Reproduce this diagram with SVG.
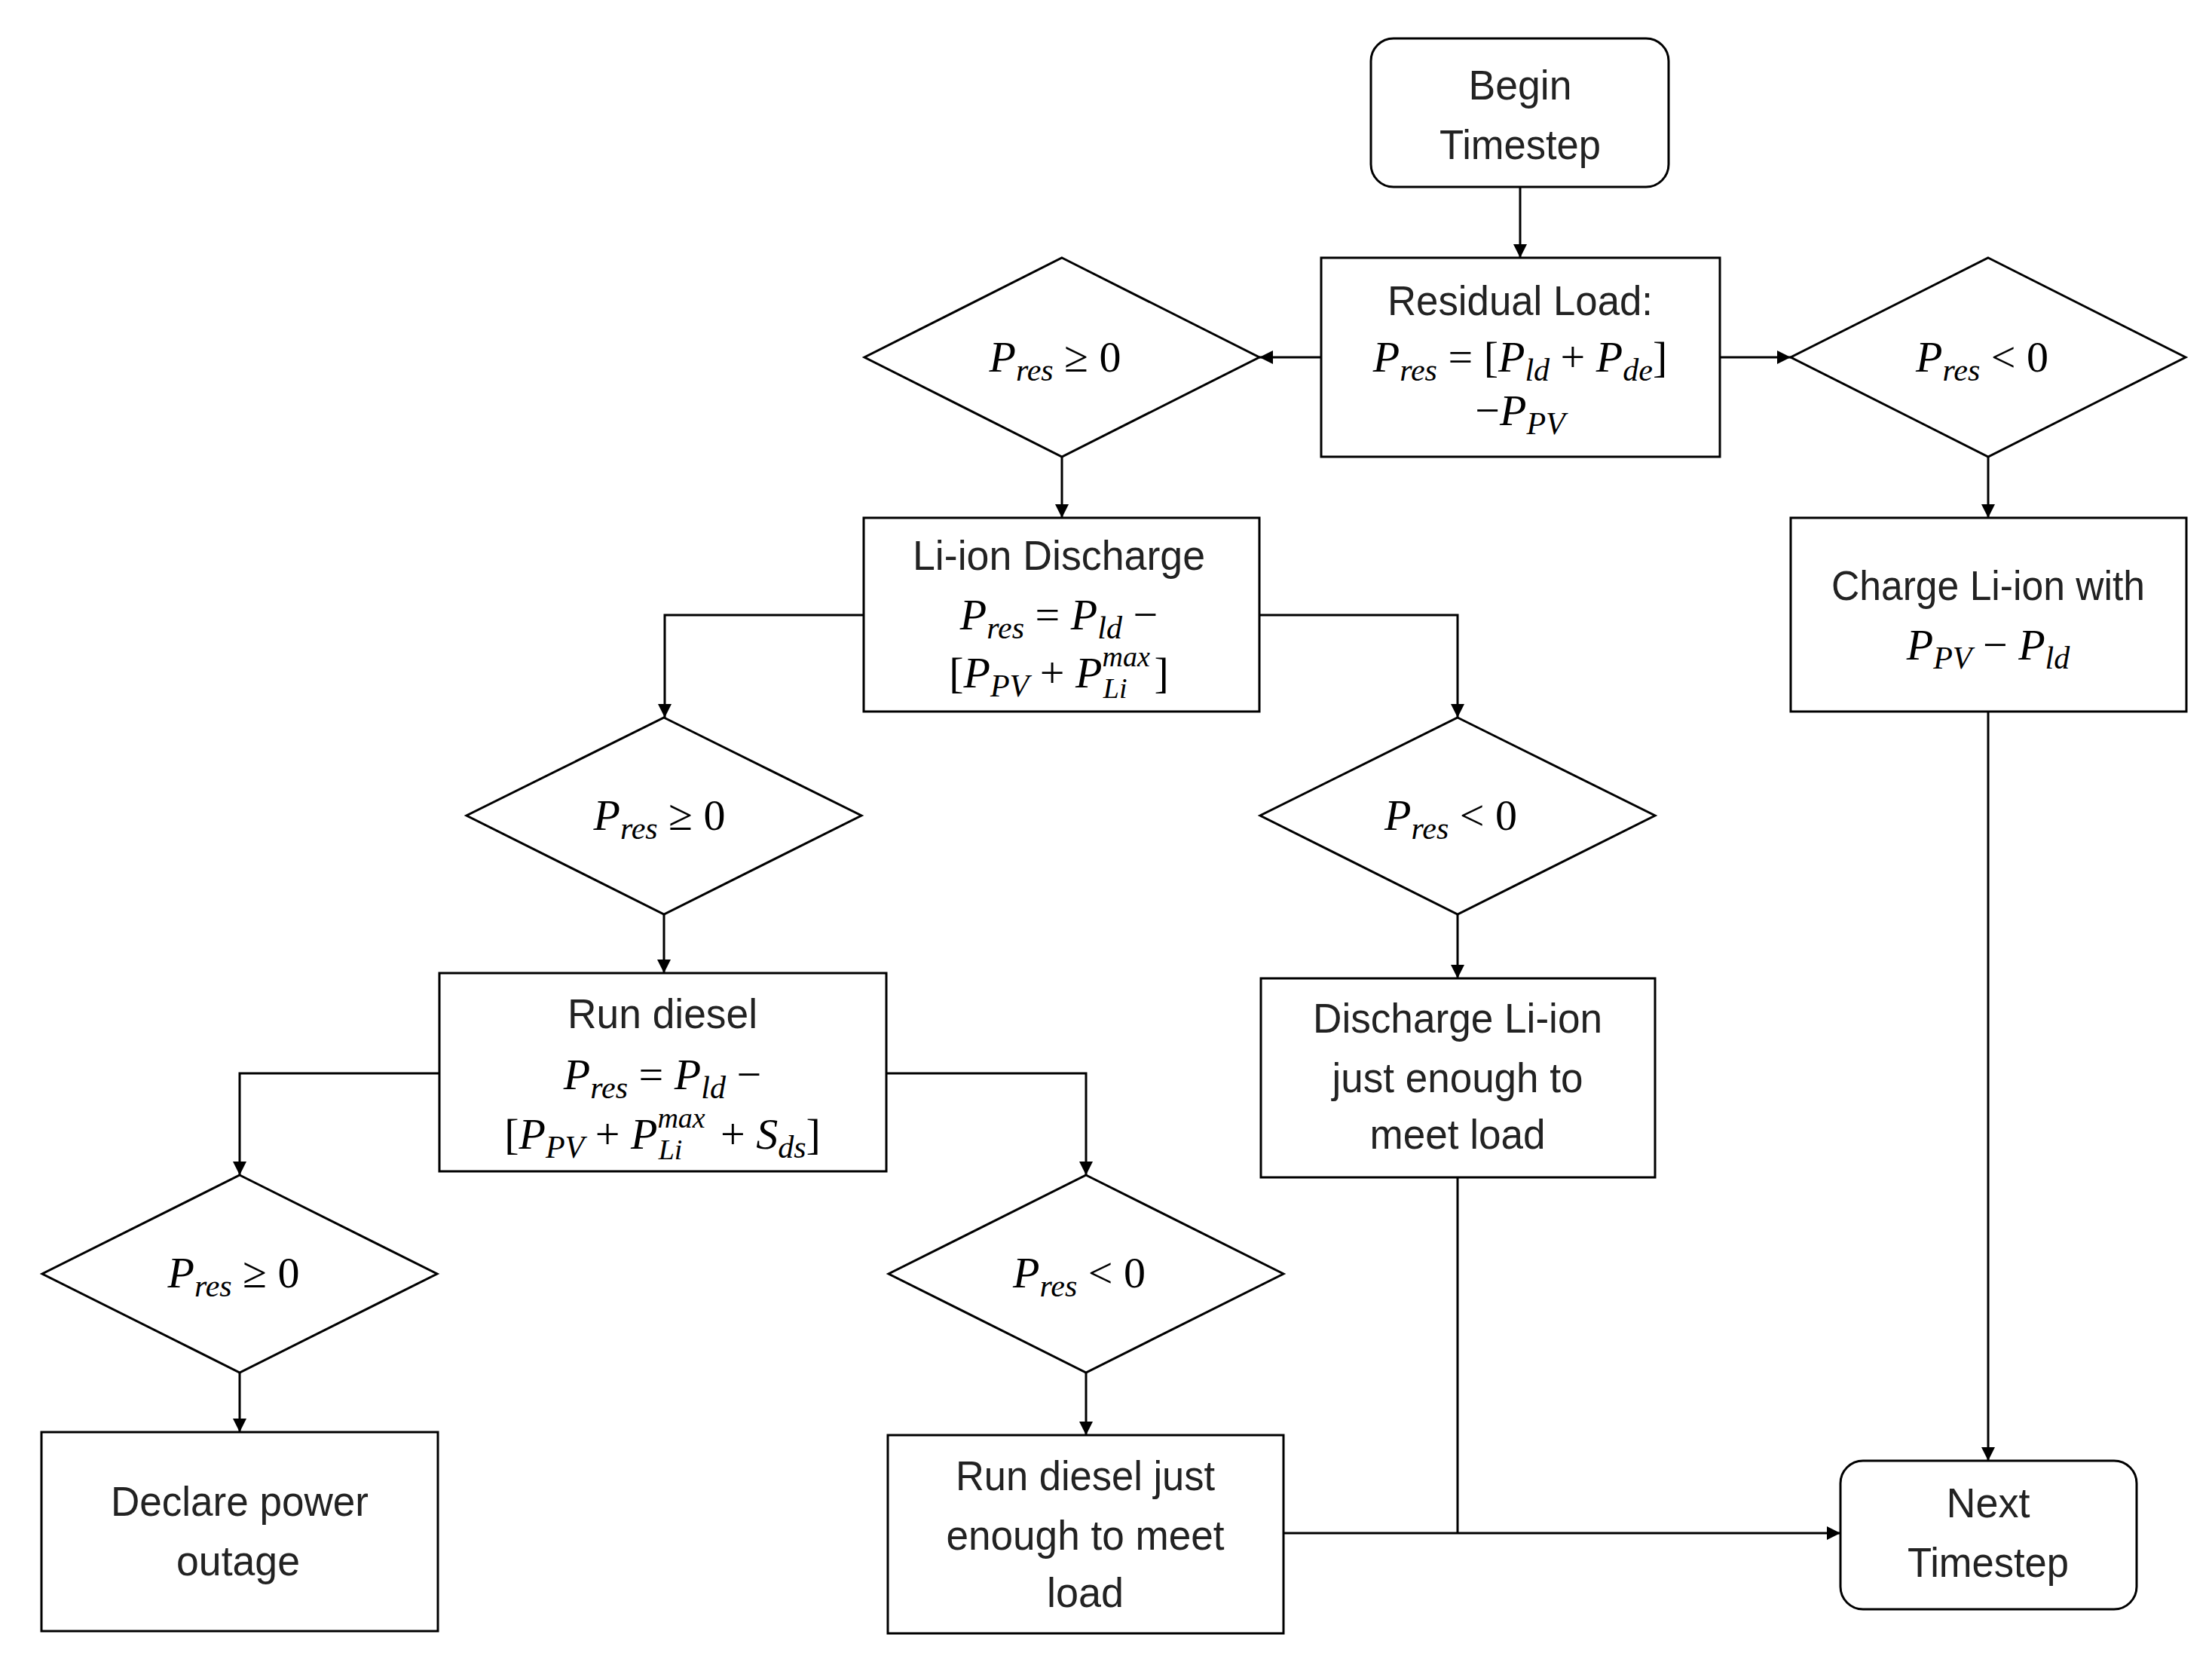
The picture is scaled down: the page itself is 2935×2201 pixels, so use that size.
<svg xmlns="http://www.w3.org/2000/svg" width="2935" height="2201" viewBox="0 0 2935 2201">
<style>
.b{fill:#fff;stroke:#000;stroke-width:3}
.c{fill:none;stroke:#000;stroke-width:3}
.t{font-family:"Liberation Sans",Arial,sans-serif;font-size:56px;text-anchor:middle;fill:#222}
.m{font-family:"Liberation Serif","Times New Roman",serif;font-size:58px;text-anchor:middle;fill:#000}
.i{font-style:italic}
.s{font-size:42px;font-style:italic}
.u{font-size:38px;font-style:italic}
</style>
<defs>
<marker id="ar" viewBox="0 0 10 10" refX="10" refY="5" markerWidth="20" markerHeight="18" orient="auto" markerUnits="userSpaceOnUse"><path d="M0,0L10,5L0,10z" fill="#000"/></marker></defs>
<g id="connectors" class="c" marker-end="url(#ar)">
<path d="M2017,248V342"/>
<path d="M1753,474H1671"/>
<path d="M2282,474H2376"/>
<path d="M1409,606V687"/>
<path d="M2638,606V687"/>
<path d="M1146,816H882V952"/>
<path d="M1671,816H1934V952"/>
<path d="M881,1213V1291"/>
<path d="M1934,1213V1298"/>
<path d="M583,1424H318V1559"/>
<path d="M1176,1424H1441V1559"/>
<path d="M318,1821V1900"/>
<path d="M1441,1821V1904"/>
<path d="M1703,2034H2442"/>
<path d="M2638,944V1938"/>
<path d="M1934,1562V2034" marker-end="none"/>
</g>
<g id="begin"><rect class="b" x="1819" y="51" width="395" height="197" rx="30"/><text class="t" x="2017" y="132" textLength="137" lengthAdjust="spacingAndGlyphs">Begin</text><text class="t" x="2017" y="211" textLength="214" lengthAdjust="spacingAndGlyphs">Timestep</text></g>
<g id="residual"><rect class="b" x="1753" y="342" width="529" height="264"/><text class="t" x="2017" y="418" textLength="352" lengthAdjust="spacingAndGlyphs">Residual Load:</text>
<text class="m" x="2017" y="493"><tspan class="i">P</tspan><tspan class="s" dy="12">res</tspan><tspan dy="-12"> = [</tspan><tspan class="i">P</tspan><tspan class="s" dy="12">ld</tspan><tspan dy="-12"> + </tspan><tspan class="i">P</tspan><tspan class="s" dy="12">de</tspan><tspan dy="-12">]</tspan></text>
<text class="m" x="2017" y="564">−<tspan class="i">P</tspan><tspan class="s" dy="12">PV</tspan></text></g>
<g id="d1"><polygon class="b" points="1409,342 1671,474 1409,606 1147,474"/><text class="m" x="1400" y="493"><tspan class="i">P</tspan><tspan class="s" dy="12">res</tspan><tspan dy="-12"> ≥ 0</tspan></text></g>
<g id="d2"><polygon class="b" points="2638,342 2900,474 2638,606 2376,474"/><text class="m" x="2630" y="493"><tspan class="i">P</tspan><tspan class="s" dy="12">res</tspan><tspan dy="-12"> &lt; 0</tspan></text></g>
<g id="lidis"><rect class="b" x="1146" y="687" width="525" height="257"/><text class="t" x="1405" y="756" textLength="388" lengthAdjust="spacingAndGlyphs">Li-ion Discharge</text>
<text class="m" x="1405" y="835"><tspan class="i">P</tspan><tspan class="s" dy="12">res</tspan><tspan dy="-12"> = </tspan><tspan class="i">P</tspan><tspan class="s" dy="12">ld</tspan><tspan dy="-12"> −</tspan></text>
<text class="m" x="1405" y="912">[<tspan class="i">P</tspan><tspan class="s" dy="12">PV</tspan><tspan dy="-12"> + </tspan><tspan class="i">P</tspan><tspan class="u" dy="-28">max</tspan><tspan class="u" dx="-62" dy="42">Li</tspan><tspan dx="36" dy="-14">]</tspan></text></g>
<g id="charge"><rect class="b" x="2376" y="687" width="525" height="257"/><text class="t" x="2638" y="796" textLength="416" lengthAdjust="spacingAndGlyphs">Charge Li-ion with</text>
<text class="m" x="2638" y="875"><tspan class="i">P</tspan><tspan class="s" dy="12">PV</tspan><tspan dy="-12"> − </tspan><tspan class="i">P</tspan><tspan class="s" dy="12">ld</tspan></text></g>
<g id="d3"><polygon class="b" points="881,952 1143,1082 881,1213 619,1082"/><text class="m" x="875" y="1101"><tspan class="i">P</tspan><tspan class="s" dy="12">res</tspan><tspan dy="-12"> ≥ 0</tspan></text></g>
<g id="d4"><polygon class="b" points="1934,952 2196,1082 1934,1213 1672,1082"/><text class="m" x="1925" y="1101"><tspan class="i">P</tspan><tspan class="s" dy="12">res</tspan><tspan dy="-12"> &lt; 0</tspan></text></g>
<g id="rundiesel"><rect class="b" x="583" y="1291" width="593" height="263"/><text class="t" x="879" y="1364" textLength="252" lengthAdjust="spacingAndGlyphs">Run diesel</text>
<text class="m" x="879" y="1445"><tspan class="i">P</tspan><tspan class="s" dy="12">res</tspan><tspan dy="-12"> = </tspan><tspan class="i">P</tspan><tspan class="s" dy="12">ld</tspan><tspan dy="-12"> −</tspan></text>
<text class="m" x="879" y="1524">[<tspan class="i">P</tspan><tspan class="s" dy="12">PV</tspan><tspan dy="-12"> + </tspan><tspan class="i">P</tspan><tspan class="u" dy="-28">max</tspan><tspan class="u" dx="-62" dy="42">Li</tspan><tspan dx="36" dy="-14"> + </tspan><tspan class="i">S</tspan><tspan class="s" dy="12">ds</tspan><tspan dy="-12">]</tspan></text></g>
<g id="dischargeli"><rect class="b" x="1673" y="1298" width="523" height="264"/><text class="t" x="1934" y="1370" textLength="384" lengthAdjust="spacingAndGlyphs">Discharge Li-ion</text><text class="t" x="1934" y="1449" textLength="333" lengthAdjust="spacingAndGlyphs">just enough to</text><text class="t" x="1934" y="1524" textLength="233" lengthAdjust="spacingAndGlyphs">meet load</text></g>
<g id="d5"><polygon class="b" points="318,1559 580,1690 318,1821 56,1690"/><text class="m" x="310" y="1708"><tspan class="i">P</tspan><tspan class="s" dy="12">res</tspan><tspan dy="-12"> ≥ 0</tspan></text></g>
<g id="d6"><polygon class="b" points="1441,1559 1703,1690 1441,1821 1179,1690"/><text class="m" x="1432" y="1708"><tspan class="i">P</tspan><tspan class="s" dy="12">res</tspan><tspan dy="-12"> &lt; 0</tspan></text></g>
<g id="declare"><rect class="b" x="55" y="1900" width="526" height="264"/><text class="t" x="318" y="2011" textLength="342" lengthAdjust="spacingAndGlyphs">Declare power</text><text class="t" x="316" y="2090" textLength="164" lengthAdjust="spacingAndGlyphs">outage</text></g>
<g id="runjust"><rect class="b" x="1178" y="1904" width="525" height="263"/><text class="t" x="1440" y="1977" textLength="344" lengthAdjust="spacingAndGlyphs">Run diesel just</text><text class="t" x="1440" y="2056" textLength="369" lengthAdjust="spacingAndGlyphs">enough to meet</text><text class="t" x="1440" y="2132" textLength="102" lengthAdjust="spacingAndGlyphs">load</text></g>
<g id="next"><rect class="b" x="2442" y="1938" width="393" height="197" rx="30"/><text class="t" x="2638" y="2013" textLength="111" lengthAdjust="spacingAndGlyphs">Next</text><text class="t" x="2638" y="2092" textLength="214" lengthAdjust="spacingAndGlyphs">Timestep</text></g>
</svg>
